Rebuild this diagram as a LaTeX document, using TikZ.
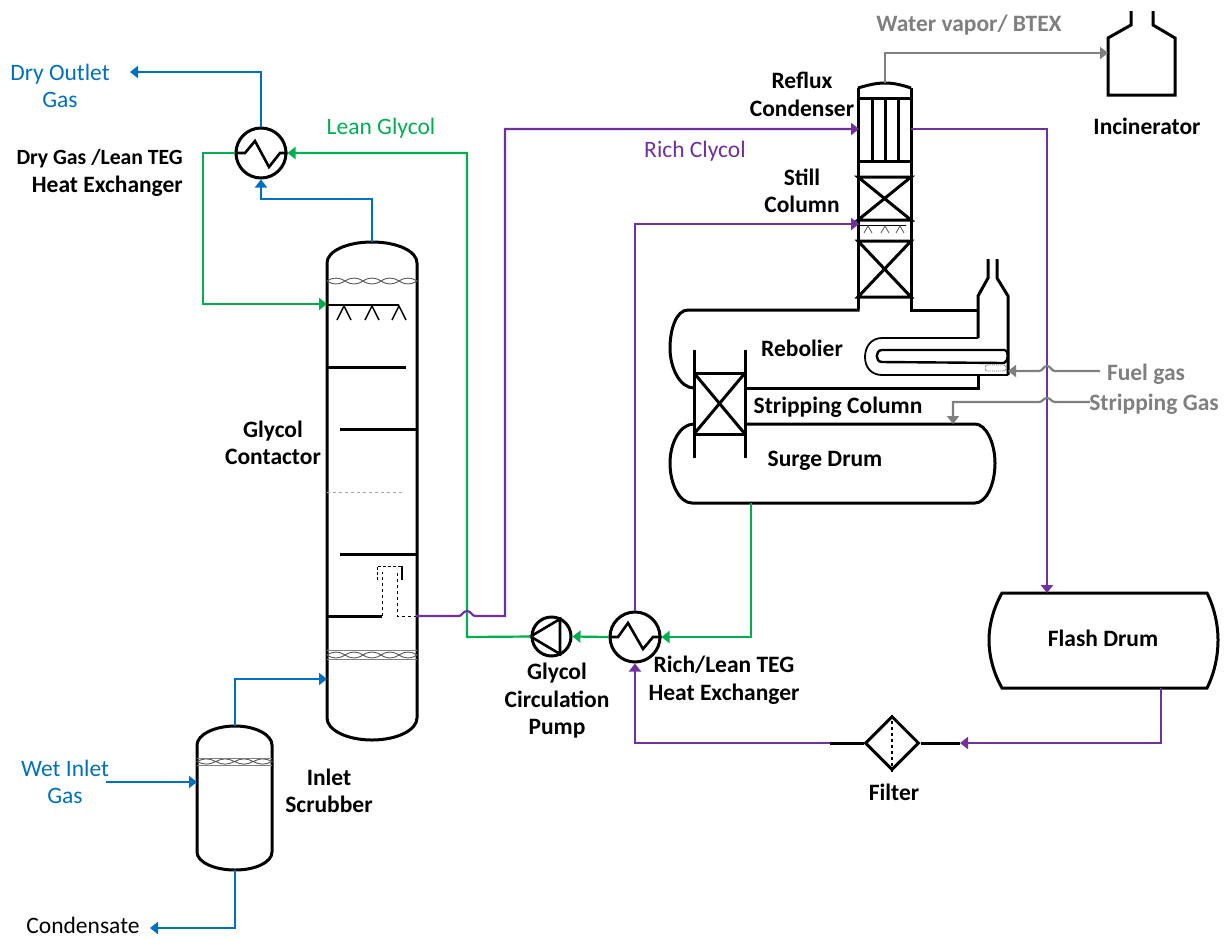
\documentclass[tikz,border=0pt]{standalone}
\usepackage{fontspec}
\setmainfont{Carlito}
\usetikzlibrary{arrows.meta,shapes.geometric}
\definecolor{cblue}{HTML}{0070C0}
\definecolor{cgreen}{HTML}{00B050}
\definecolor{cpurple}{HTML}{7030A0}
\definecolor{cgray}{HTML}{7F7F7F}
\newcommand{\meshpad}[5]{% x0,y,lobe,n,amp
  \foreach \mi in {1,...,#4}{
    \pgfmathsetmacro{\ma}{#1+(\mi-1)*#3}
    \pgfmathsetmacro{\mb}{#1+\mi*#3}
    \draw[padline] (\ma,#2) .. controls (\ma+#3*0.35,#2-#5) and (\mb-#3*0.35,#2-#5) .. (\mb,#2)
      .. controls (\mb-#3*0.35,#2+#5) and (\ma+#3*0.35,#2+#5) .. (\ma,#2);
  }}
\tikzset{
  x=1pt,y=-1pt,
  eq/.style={draw=black,line width=3pt,line join=miter},
  eqthin/.style={draw=black,line width=2pt},
  padline/.style={draw=black!65,line width=0.9pt},
  flow/.style={line width=2.2pt},
  tip/.style={-{Triangle[length=8pt,width=12pt]}},
  blueflow/.style={flow,draw=cblue},
  greenflow/.style={flow,draw=cgreen},
  purpleflow/.style={flow,draw=cpurple},
  grayflow/.style={flow,draw=cgray},
  lab/.style={font=\fontsize{23.5}{27.5}\selectfont\bfseries,align=center,text=black,inner sep=0pt},
  labr/.style={font=\fontsize{23.5}{27.5}\selectfont,align=center,inner sep=0pt},
  hxc/.style={circle,draw=black,line width=3pt,minimum size=50pt,inner sep=0pt},
  pumpc/.style={circle,draw=black,line width=3pt,minimum size=39pt,inner sep=0pt},
  filt/.style={diamond,draw=black,line width=3pt,minimum width=54pt,minimum height=54pt,inner sep=0pt,aspect=1},
}
\begin{document}
\begin{tikzpicture}
\useasboundingbox (0,0) rectangle (1228,938);

% ---- named ports ----
\coordinate (contTop) at (372,242);
\coordinate (contGreen) at (327,304);
\coordinate (contIn) at (327,679);
\coordinate (contOut) at (416,616);
\coordinate (scrubTop) at (235,726);
\coordinate (scrubIn) at (197,782);
\coordinate (scrubBot) at (235,870);
\coordinate (dryOut) at (130,72);
\coordinate (condOut) at (150,928);
\coordinate (wetIn) at (106,782);
\coordinate (condensIn) at (859,129);
\coordinate (condensOut) at (911,129);
\coordinate (stillIn) at (859,224);
\coordinate (stillTop) at (885,83);
\coordinate (incinIn) at (1108,53);
\coordinate (flashTop) at (1047,593);
\coordinate (flashBot) at (1161,688);
\coordinate (surgeBot) at (751,503);
\coordinate (fuelIn) at (1008,371);
\coordinate (fuelSrc) at (1100,371);
\coordinate (stripIn) at (953,424);
\coordinate (stripSrc) at (1090,402);

% ---- Glycol contactor ----
\draw[eq] (327,263) .. controls (327,251) and (347,242) .. (372,242) .. controls (397,242) and (417,251) .. (417,263)
  -- (417,718) .. controls (417,730) and (397,740) .. (372,740) .. controls (347,740) and (327,730) .. (327,718) -- cycle;
\meshpad{327}{281}{18}{5}{4}
\draw[eqthin] (327,305) -- (399,305);
\draw[line width=1.4pt] (337,320) -- (344,306) -- (351,320) (365,320) -- (372,306) -- (379,320) (392,320) -- (399,306) -- (406,320);
\draw[eq] (327,367) -- (406,367);
\draw[eq] (340,429) -- (417,429);
\draw[draw=black!35,line width=0.8pt,dashed] (327,492) -- (405,492);
\draw[eq] (340,554) -- (417,554);
\draw[eq] (327,616) -- (382,616);
\draw[line width=1pt,dashed] (382,616) -- (382,572) (397,573) -- (397,616) -- (416,616);
\draw[line width=1pt,densely dashed] (377,580) -- (377,566) -- (402,566);
\draw[line width=1.2pt] (402,566) -- (402,580);
\meshpad{327}{655}{18}{5}{4}
\draw[draw=black!50,line width=1pt] (327,650.5) -- (417,650.5) (327,659) -- (417,659);

% ---- Inlet scrubber ----
\draw[eq] (197,745) .. controls (197,735) and (214,726) .. (235,726) .. controls (256,726) and (272,735) .. (272,745)
  -- (272,852) .. controls (272,862) and (256,870) .. (235,870) .. controls (214,870) and (197,862) .. (197,852) -- cycle;
\meshpad{197}{761.5}{18.75}{4}{3.5}
\draw[draw=black!50,line width=1pt] (197,758) -- (272,758) (197,765) -- (272,765);

% ---- Still column ----
\draw[eq] (858,88) .. controls (868,85) and (876,83) .. (885,83) .. controls (894,83) and (902,85) .. (911,88);
\draw[eq] (858,309) -- (858,88) -- (858,98) -- (911,98) -- (911,88) -- (911,309);
\draw[eq] (872,98) -- (872,161) (885,98) -- (885,161) (898,98) -- (898,161);
\draw[eq] (858,161) -- (911,161);
\draw[eq] (858,177) -- (911,177) -- (858,220) -- (911,220) -- cycle;
\draw[eq] (858,241) -- (911,241) -- (858,297) -- (911,297) -- cycle;
\draw[line width=0.9pt] (858,225) -- (906,225);
\draw[draw=black!60,line width=0.9pt] (864,233) -- (868,226) -- (872,233) (881,233) -- (885,226) -- (889,233) (896,233) -- (900,226) -- (904,233);

% ---- Rebolier ----
\draw[eq] (859.5,310) -- (688,310) .. controls (676,310) and (670,330) .. (670,348) .. controls (670,368) and (680,388) .. (694,388);
\draw[eq] (909.5,310) -- (978,310);
\draw[eq] (745,388) -- (978,388) -- (978,375);
\draw[eq] (978,338) -- (978,296) -- (988,278) -- (988,259);
\draw[eq] (1008,375) -- (1008,296) -- (997,278) -- (997,259);
\draw[line width=1.8pt] (978,338) -- (882,338) .. controls (871,338) and (865,347) .. (865,357) .. controls (865,367) and (871,375) .. (882,375) -- (1008,375);
\draw[line width=2.4pt] (1005,350) -- (882,350) .. controls (875,350) and (875,362) .. (882,362) -- (1004,363) .. controls (1009,361) and (1009,351) .. (1005,350);
\draw[draw=black!60,line width=0.9pt,densely dotted,rounded corners=2.5pt] (985,365) rectangle (1006,371);

% ---- Stripping column ----
\draw[eq] (694,350) -- (694,458) (745,350) -- (745,458);
\draw[eq] (694,373) rectangle (745,434);
\draw[eq] (694,373) -- (745,434) (745,373) -- (694,434);

% ---- Surge drum ----
\draw[eq] (694,424) .. controls (680,424) and (670,443) .. (670,463) .. controls (670,485) and (680,503) .. (692,503) -- (975,503)
  .. controls (986,503) and (995,485) .. (995,463) .. controls (995,443) and (986,424) .. (975,424) -- (745,424);

% ---- Flash drum ----
\draw[eq] (1002,593) -- (1207,593) .. controls (1214,607) and (1218,624) .. (1218,640) .. controls (1218,657) and (1214,674) .. (1207,688)
  -- (1002,688) .. controls (994,674) and (989,657) .. (989,640) .. controls (989,624) and (994,607) .. (1002,593) -- cycle;

% ---- Incinerator ----
\draw[eq] (1131,11) -- (1131,25) -- (1108,38) -- (1108,95) -- (1175,95) -- (1175,38) -- (1153,25) -- (1153,11);

% ---- round equipment ----
\node[hxc] (hxA) at (261,153) {};
\draw[eq,line width=2.6pt] (hxA.west) -- (245,153) -- (255,141) -- (269,167) -- (280,153) -- (hxA.east);
\node[hxc] (hxB) at (635,637) {};
\draw[eq,line width=2.6pt] (hxB.west) -- (618,637) -- (628,623) -- (643,649) -- (653,637) -- (hxB.east);
\node[pumpc] (pump) at (551.5,636.5) {};
\draw[eq,line width=2.6pt] (560,619) -- (pump.west) -- (560,654) -- cycle;

% ---- filter ----
\node[filt] (filter) at (892,743) {};
\draw[line width=2.8pt,dashed] (filter.north) -- (filter.south);
\coordinate (filtR) at (960,743);
\coordinate (filtL) at (830,743);
\draw[line width=3pt] (filter.east) -- (filtR) (filter.west) -- (filtL);

% ---- blue lines ----
\draw[blueflow,tip] (contTop) -- (372,199) -- (261,199) -- (hxA.south);
\draw[blueflow,tip] (hxA.north) |- (dryOut);
\draw[blueflow,tip] (scrubTop) |- (contIn);
\draw[blueflow,tip] (wetIn) -- (scrubIn);
\draw[blueflow,tip] (scrubBot) |- (condOut);

% ---- green lines ----
\draw[greenflow,tip] (pump.west) -- (467,637) |- (hxA.east);
\draw[greenflow,tip] (hxA.west) -- (203,153) |- (contGreen);
\draw[greenflow,tip] (hxB.west) -- (pump.east);
\draw[greenflow,tip] (surgeBot) |- (hxB.east);

% ---- purple lines ----
\draw[purpleflow,tip] (contOut) -- (459,616) .. controls (462,616) and (463,611) .. (467,611) .. controls (471,611) and (472,616) .. (475,616) -- (505,616) |- (condensIn);
\draw[purpleflow,tip] (hxB.north) |- (stillIn);
\draw[purpleflow,tip] (condensOut) -| (flashTop);
\draw[purpleflow,tip] (flashBot) |- (filtR);
\draw[purpleflow,tip] (filtL) -| (hxB.south);

% ---- gray lines ----
\draw[grayflow,tip] (stillTop) |- (incinIn);
\draw[grayflow,tip] (fuelSrc) -- (1055,371) .. controls (1051,371) and (1051,366) .. (1047,366) .. controls (1043,366) and (1043,371) .. (1039,371) -- (fuelIn);
\draw[grayflow,tip] (stripSrc) -- (1055,402) .. controls (1051,402) and (1051,398) .. (1047,398) .. controls (1043,398) and (1043,402) .. (1039,402) -- (953,402) -- (stripIn);

% ---- labels ----
\node[labr,text=cblue] (tDry) at (60,86) {Dry Outlet\\Gas};
\node[lab,align=right,anchor=east] (tDG) at (183,173) {{\fontsize{21.7}{27.5}\selectfont Dry Gas /Lean TEG}\\Heat Exchanger};
\node[labr,text=cgreen] (tLean) at (381,128) {Lean Glycol};
\node[labr,text=cpurple] (tRich) at (695,151) {Rich Clycol};
\node[lab] (tRefl) at (802,94.5) {Reflux\\Condenser};
\node[lab] (tStill) at (802,191) {Still\\Column};
\node[lab,text=cgray] (tWater) at (969,25) {Water vapor/ BTEX};
\node[lab] (tInc) at (1147,126) {Incinerator};
\node[lab] (tReb) at (802,348) {Rebolier};
\node[lab] (tStrip) at (838,407) {Stripping Column};
\node[lab] (tSurge) at (825,460.5) {Surge Drum};
\node[lab,text=cgray] (tFuel) at (1146,374) {Fuel gas};
\node[lab,text=cgray] (tSG) at (1154,404) {Stripping Gas};
\node[lab] (tFlash) at (1103,638) {Flash Drum};
\node[lab] (tCont) at (273,443) {Glycol\\Contactor};
\node[lab] (tRL) at (724,680) {Rich/Lean TEG\\Heat Exchanger};
\node[lab] (tPump) at (557,701) {Glycol\\Circulation\\Pump};
\node[lab] (tScr) at (329,791) {Inlet\\Scrubber};
\node[lab] (tFilt) at (894,792) {Filter};
\node[labr,text=cblue] (tWet) at (65,782) {Wet Inlet\\Gas};
\node[labr,text=black] (tCond) at (83,925.5) {Condensate};
\end{tikzpicture}
\end{document}
